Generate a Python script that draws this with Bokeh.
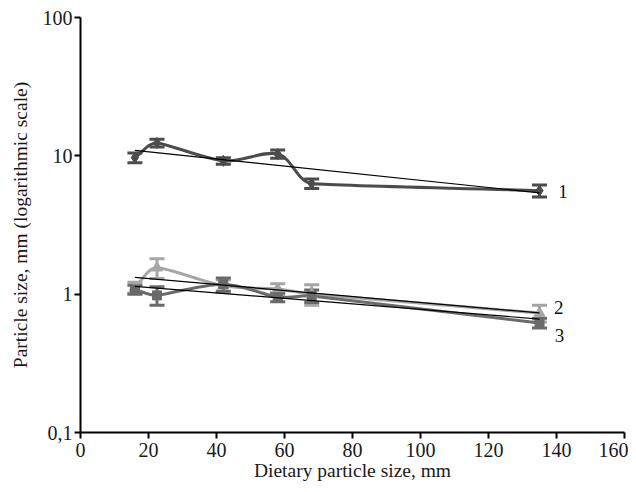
import numpy as np
from bokeh.plotting import figure
from bokeh.models import (ColumnDataSource, Whisker, TeeHead, FixedTicker, Range1d,
                          SingleIntervalTicker)
from bokeh.core.properties import value
from bokeh.embed import file_html
from bokeh.resources import INLINE

# ---- data ----
x_vals = [16, 22.5, 42, 58, 68, 135]
s1 = [9.7, 12.4, 9.2, 10.3, 6.3, 5.6]
s1_err = [0.8, 0.8, 0.5, 0.7, 0.5, 0.55]
s2 = [1.12, 1.55, 1.15, 1.09, 1.0, 0.73]
s2_err = [0.1, 0.25, 0.12, 0.1, 0.17, 0.1]
s3 = [1.08, 0.98, 1.18, 0.95, 0.97, 0.62]
s3_err = [0.08, 0.15, 0.13, 0.07, 0.1, 0.05]
series_names = ["1", "2", "3"]
label_x = [140.5, 139.3, 139.5]
label_y = [5.5, 0.80, 0.50]
y_ticks = [0.1, 1, 10, 100]
y_tick_labels = ["0,1", "1", "10", "100"]

colors = ["#4c4c4c", "#a6a6a6", "#6a6a6a"]
markers = ["diamond", "triangle", "square"]
msizes = [11, 11, 9]

FONT = "Liberation Serif"

W, H = 628, 484
BL, BR, BT, BB = 80, 4, 17, 52
PX_PER_X = (W - BL - BR) / 160.0          # screen px per x unit
PX_PER_DEC = (H - BT - BB) / 3.0          # screen px per decade

p = figure(width=W, height=H, output_backend="svg", toolbar_location=None,
           x_range=Range1d(0, 160), y_range=Range1d(0.1, 100), y_axis_type="log",
           min_border_left=BL, min_border_right=BR, min_border_top=BT,
           min_border_bottom=BB)
p.outline_line_color = None
p.xgrid.visible = False
p.ygrid.visible = False
p.background_fill_color = "white"
p.border_fill_color = "white"


def bezier_ctrl(xs, ys):
    # smooth curve through the points, built in screen space
    P = np.column_stack([np.array(xs, float) * PX_PER_X,
                         np.log10(np.array(ys, float)) * PX_PER_DEC])
    n = len(P)
    out = {k: [] for k in ["x0", "y0", "x1", "y1", "cx0", "cy0", "cx1", "cy1"]}

    def back(pt):
        return pt[0] / PX_PER_X, 10 ** (pt[1] / PX_PER_DEC)

    def unit(v):
        nv = np.linalg.norm(v)
        return v / nv if nv > 0 else v

    for i in range(n - 1):
        a = P[i]; b = P[i + 1]
        pm = P[max(i - 1, 0)]; pp = P[min(i + 2, n - 1)]
        d = np.linalg.norm(b - a)
        dprev = np.linalg.norm(a - pm) or d
        dnext = np.linalg.norm(pp - b) or d
        c0 = a + unit(b - pm) * min(dprev, d) / 3
        c1 = b - unit(pp - a) * min(d, dnext) / 3
        for key, pt in (("0", a), ("1", b)):
            X, Y = back(pt)
            out["x" + key].append(X); out["y" + key].append(Y)
        X, Y = back(c0); out["cx0"].append(X); out["cy0"].append(Y)
        X, Y = back(c1); out["cx1"].append(X); out["cy1"].append(Y)
    return out


all_series = [(s1, s1_err), (s2, s2_err), (s3, s3_err)]

for (ys, errs), col in zip(all_series, colors):
    src = ColumnDataSource(bezier_ctrl(x_vals, ys))
    p.bezier(x0="x0", y0="y0", x1="x1", y1="y1", cx0="cx0", cy0="cy0",
             cx1="cx1", cy1="cy1", source=src, line_color=col, line_width=3)

for (ys, errs), col, mk, ms in zip(all_series, colors, markers, msizes):
    up = [y + e for y, e in zip(ys, errs)]
    lo = [y - e for y, e in zip(ys, errs)]
    esrc = ColumnDataSource(dict(x=x_vals, y=ys, up=up, lo=lo))
    w = Whisker(base="x", upper="up", lower="lo", source=esrc, line_color=col,
                line_width=3,
                upper_head=TeeHead(size=15, line_color=col, line_width=3),
                lower_head=TeeHead(size=15, line_color=col, line_width=3))
    p.add_layout(w)
    p.scatter(x="x", y="y", source=esrc, marker=mk, size=ms, fill_color=col,
              line_color=col)

# exponential trend lines (least squares on log10 values)
for ys in [s1, s2, s3]:
    k, b = np.polyfit(np.array(x_vals, float), np.log10(np.array(ys, float)), 1)
    tx = [x_vals[0], x_vals[-1]]
    ty = [10 ** (k * t + b) for t in tx]
    p.line(tx, ty, line_color="black", line_width=1.2)

p.text(x=label_x, y=label_y, text=series_names, text_font=value(FONT),
       text_font_size="19px", text_baseline="middle", text_align="left",
       text_color="#111111")

# axes
p.xaxis.ticker = SingleIntervalTicker(interval=20, num_minor_ticks=0)
p.yaxis.ticker = FixedTicker(ticks=y_ticks)
p.yaxis.major_label_overrides = {t: l for t, l in zip(y_ticks, y_tick_labels)}
for ax in (p.xaxis, p.yaxis):
    ax.axis_line_color = "black"
    ax.axis_line_width = 2
    ax.major_tick_line_color = "black"
    ax.major_tick_line_width = 2
    ax.major_tick_out = 6
    ax.major_tick_in = 0
    ax.minor_tick_line_color = None
    ax.major_label_text_font = FONT
    ax.major_label_text_font_size = "20px"
    ax.major_label_text_color = "#1a1a1a"
    ax.axis_label_text_font = FONT
    ax.axis_label_text_font_size = "19.5px"
    ax.axis_label_text_font_style = "normal"
    ax.axis_label_text_color = "#1a1a1a"
p.xaxis.axis_label = "Dietary particle size, mm"
p.yaxis.axis_label = "Particle size, mm (logarithmic scale)"
p.xaxis.major_label_standoff = 4
p.yaxis.major_label_standoff = 2
p.xaxis.axis_label_standoff = 0
p.yaxis.axis_label_standoff = 9

open("out.html", "w").write(file_html(p, INLINE))
